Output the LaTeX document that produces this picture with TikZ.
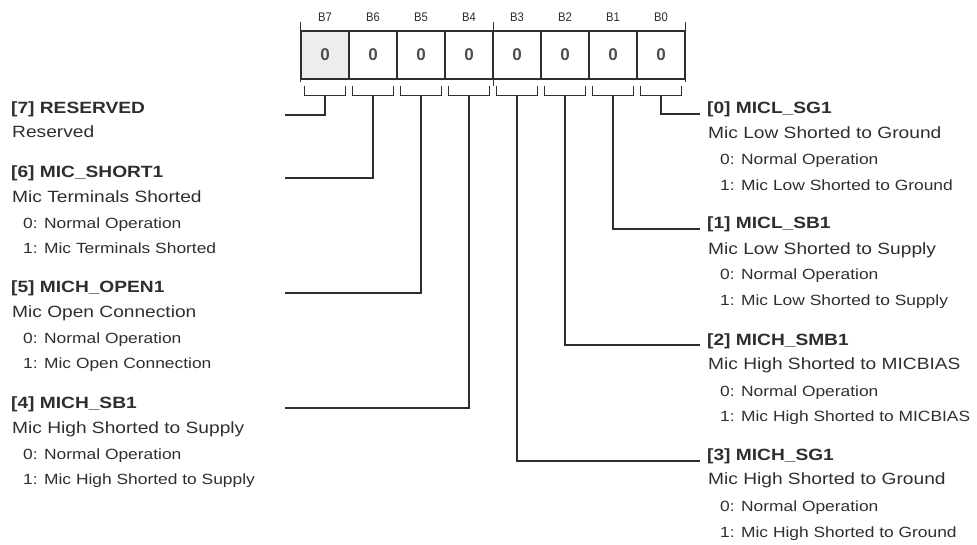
\documentclass[tikz,border=0pt]{standalone}
\usepackage{fontspec}
\setmainfont{Liberation Sans}[FakeStretch=1.175]
\newfontfamily\bitfont{Liberation Sans}
\newfontfamily\bitlblfont{Liberation Sans}[FakeStretch=0.9]
\definecolor{ink}{HTML}{2E2E2E}
\definecolor{cellgray}{HTML}{EDEDED}
\begin{document}
\begin{tikzpicture}[x=1pt,y=-1pt,
  wire/.style={draw=ink,line width=1.2pt},
  cell/.style={draw=ink,line width=1.1pt,minimum width=48pt,minimum height=48pt,inner sep=0pt,
    font=\bitfont\fontsize{17}{20}\selectfont\bfseries,text=ink!85},
  bitlbl/.style={inner sep=0pt,font=\bitlblfont\fontsize{12.5}{14}\selectfont,text=ink},
  title/.style={anchor=base west,inner sep=0pt,font=\fontsize{16.3}{19}\selectfont\bfseries,text=ink},
  desc/.style={anchor=base west,inner sep=0pt,font=\fontsize{16.3}{19}\selectfont,text=ink},
  val/.style={anchor=base west,inner sep=0pt,font=\fontsize{14.8}{17}\selectfont,text=ink}
]
\useasboundingbox (0,0) rectangle (977,544);

% register cells
\node[cell,fill=cellgray] (c7) at (325,55) {\raisebox{-2pt}{0}};
\node[cell] (c6) at (373,55) {\raisebox{-2pt}{0}};
\node[cell] (c5) at (421,55) {\raisebox{-2pt}{0}};
\node[cell] (c4) at (469,55) {\raisebox{-2pt}{0}};
\node[cell] (c3) at (517,55) {\raisebox{-2pt}{0}};
\node[cell] (c2) at (565,55) {\raisebox{-2pt}{0}};
\node[cell] (c1) at (613,55) {\raisebox{-2pt}{0}};
\node[cell] (c0) at (661,55) {\raisebox{-2pt}{0}};

% bit labels
\foreach \i in {0,...,7}{
  \node[bitlbl] (b\i) at ([yshift=38pt]c\i.center) {B\i};
}

% nibble ticks
\draw[wire] ([yshift=8pt]c7.north west) -- ([yshift=-2pt]c7.south west);
\draw[wire] ([yshift=8pt]c4.north east) -- ([yshift=-6pt]c4.south east);
\draw[wire] ([yshift=8pt]c0.north east) -- ([yshift=-2pt]c0.south east);

% brackets and stem tops
\foreach \i in {0,...,7}{
  \draw[wire] ([xshift=4pt,yshift=-6pt]c\i.south west) -- ([xshift=4pt,yshift=-16pt]c\i.south west)
     -- ([xshift=-4pt,yshift=-16pt]c\i.south east) -- ([xshift=-4pt,yshift=-6pt]c\i.south east);
  \coordinate (s\i) at ([yshift=-16pt]c\i.south);
}

% ---------- left column ----------
\node[title] (t7) at (11,113) {[7]\ RESERVED};
\node[desc]  (d7) at (12,137) {Reserved};

\node[title] (t6) at (11,177) {[6]\ MIC\_SHORT1};
\node[desc]  (d6) at (12,202) {Mic Terminals Shorted};
\node[val]   (z6) at (23,228) {0: Normal Operation};
\node[val]   (o6) at (23,253) {1: Mic Terminals Shorted};

\node[title] (t5) at (11,292) {[5]\ MICH\_OPEN1};
\node[desc]  (d5) at (12,317) {Mic Open Connection};
\node[val]   (z5) at (23,343) {0: Normal Operation};
\node[val]   (o5) at (23,368) {1: Mic Open Connection};

\node[title] (t4) at (11,408) {[4]\ MICH\_SB1};
\node[desc]  (d4) at (12,433) {Mic High Shorted to Supply};
\node[val]   (z4) at (23,459) {0: Normal Operation};
\node[val]   (o4) at (23,484) {1: Mic High Shorted to Supply};

\coordinate (e7) at (285,115);
\coordinate (e6) at (285,178);
\coordinate (e5) at (285,293);
\coordinate (e4) at (285,408);

% ---------- right column ----------
\node[title] (t0) at (707,113) {[0]\ MICL\_SG1};
\node[desc]  (d0) at (708,138) {Mic Low Shorted to Ground};
\node[val]   (z0) at (720,164) {0: Normal Operation};
\node[val]   (o0) at (720,190) {1: Mic Low Shorted to Ground};

\node[title] (t1) at (707,228) {[1]\ MICL\_SB1};
\node[desc]  (d1) at (708,254) {Mic Low Shorted to Supply};
\node[val]   (z1) at (720,279) {0: Normal Operation};
\node[val]   (o1) at (720,305) {1: Mic Low Shorted to Supply};

\node[title] (t2) at (707,345) {[2]\ MICH\_SMB1};
\node[desc]  (d2) at (708,369) {Mic High Shorted to MICBIAS};
\node[val]   (z2) at (720,396) {0: Normal Operation};
\node[val]   (o2) at (720,421) {1: Mic High Shorted to MICBIAS};

\node[title] (t3) at (707,460) {[3]\ MICH\_SG1};
\node[desc]  (d3) at (708,484) {Mic High Shorted to Ground};
\node[val]   (z3) at (720,511) {0: Normal Operation};
\node[val]   (o3) at (720,537) {1: Mic High Shorted to Ground};

\coordinate (e0) at (700,114);
\coordinate (e1) at (700,229);
\coordinate (e2) at (700,345);
\coordinate (e3) at (700,461);

% connectors
\foreach \i in {0,...,7}{
  \draw[wire] (s\i) |- (e\i);
}
\end{tikzpicture}
\end{document}
